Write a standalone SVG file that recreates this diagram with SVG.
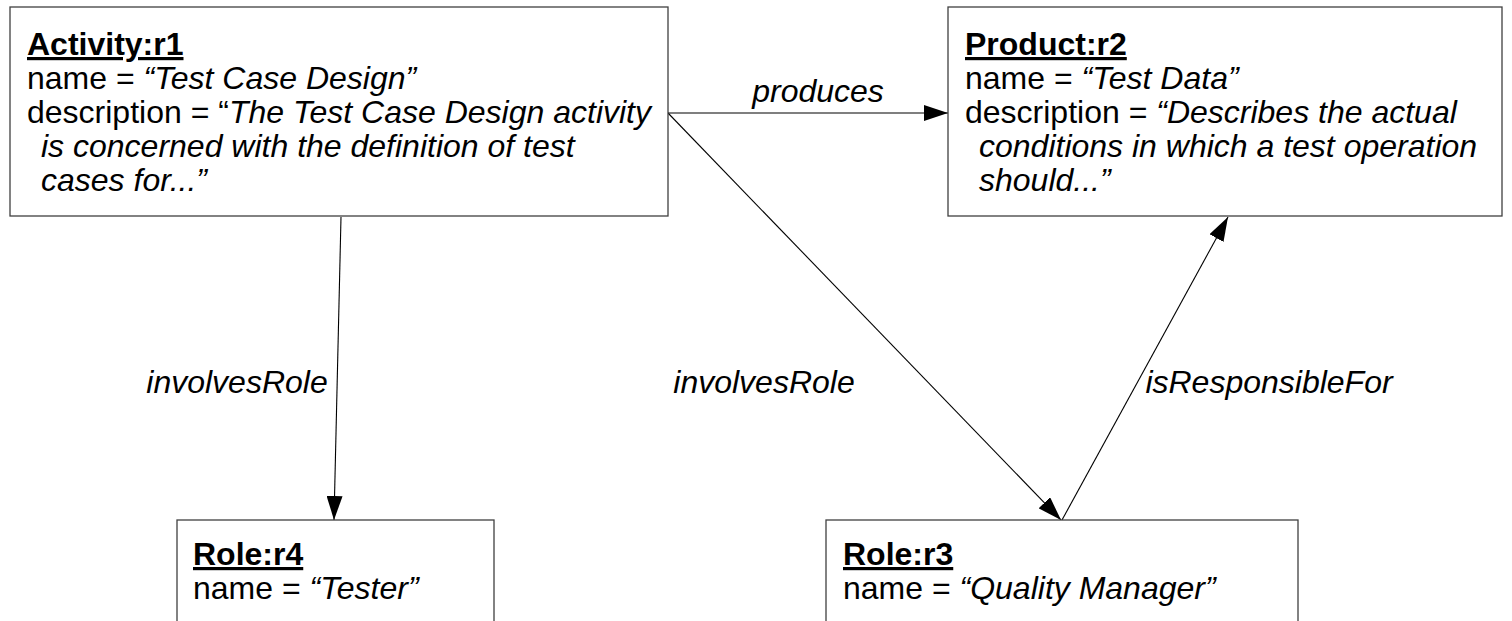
<svg xmlns="http://www.w3.org/2000/svg" width="1512" height="621" viewBox="0 0 1512 621">
<style>
.box{fill:#fff;stroke:#404040;stroke-width:1.3}
text{font-family:"Liberation Sans",Arial,sans-serif;font-size:32px;fill:#000}
.t{font-weight:bold;text-decoration:underline}
.i{font-style:italic}
.c{stroke:#000;stroke-width:1.1;fill:none}
</style>
<defs>
<marker id="ah" markerWidth="24" markerHeight="16" refX="24" refY="8" orient="auto" markerUnits="userSpaceOnUse">
<path d="M0,0 L24,8 L0,16 Z" fill="#000"/>
</marker>
</defs>
<rect width="1512" height="621" fill="#fff"/>
<g id="connectors">
<line class="c" x1="668" y1="113" x2="948" y2="113" marker-end="url(#ah)"/>
<line class="c" x1="341" y1="217" x2="334" y2="520" marker-end="url(#ah)"/>
<line class="c" x1="668" y1="113" x2="1061" y2="520" marker-end="url(#ah)"/>
<line class="c" x1="1062" y1="520" x2="1228" y2="217" marker-end="url(#ah)"/>
<text class="i" x="818" y="102" text-anchor="middle">produces</text>
<text class="i" x="237" y="393" text-anchor="middle">involvesRole</text>
<text class="i" x="764" y="393" text-anchor="middle">involvesRole</text>
<text class="i" x="1269" y="393" text-anchor="middle">isResponsibleFor</text>
</g>
<g id="activity-r1">
<rect class="box" x="10" y="7" width="658" height="209"/>
<text class="t" x="27" y="55">Activity:r1</text>
<text x="27" y="89">name = <tspan class="i">“Test Case Design”</tspan></text>
<text x="27" y="123">description = “<tspan class="i">The Test Case Design activity</tspan></text>
<text class="i" x="41" y="157">is concerned with the definition of test</text>
<text class="i" x="41" y="191">cases for...”</text>
</g>
<g id="product-r2">
<rect class="box" x="948" y="7" width="554" height="209"/>
<text class="t" x="965" y="55">Product:r2</text>
<text x="965" y="89">name = <tspan class="i">“Test Data”</tspan></text>
<text x="965" y="123">description = <tspan class="i">“Describes the actual</tspan></text>
<text class="i" x="979" y="157">conditions in which a test operation</text>
<text class="i" x="979" y="191">should...”</text>
</g>
<g id="role-r4">
<rect class="box" x="177" y="520" width="317" height="120"/>
<text class="t" x="193" y="565">Role:r4</text>
<text x="193" y="599">name = <tspan class="i">“Tester”</tspan></text>
</g>
<g id="role-r3">
<rect class="box" x="826" y="520" width="472" height="120"/>
<text class="t" x="843" y="565">Role:r3</text>
<text x="843" y="599">name = <tspan class="i">“Quality Manager”</tspan></text>
</g>
</svg>
